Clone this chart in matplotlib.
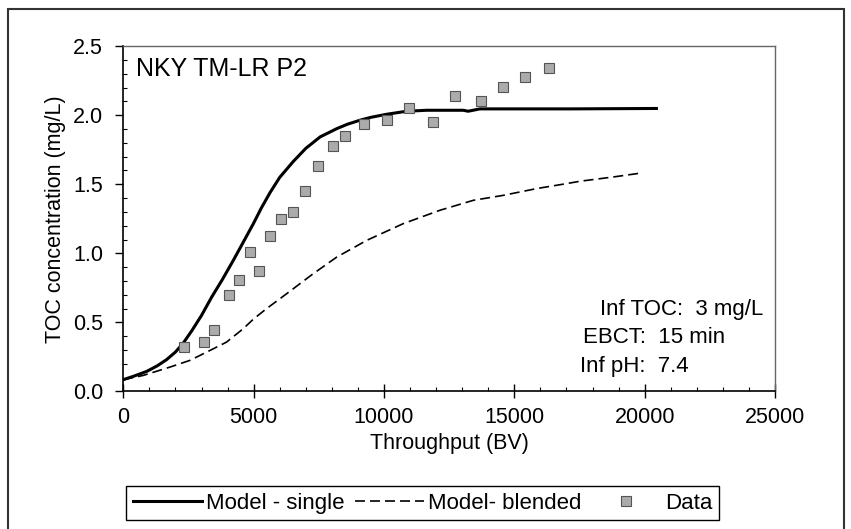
import matplotlib
matplotlib.use('Agg')
import matplotlib.pyplot as plt
from matplotlib.patches import Rectangle
from matplotlib.ticker import MultipleLocator, FormatStrFormatter

plt.rcParams['font.family'] = ['Liberation Sans', 'DejaVu Sans']

# model - single (solid line)
single_x = [0, 400, 900, 1300, 1660, 2000, 2300, 2630, 3000, 3390, 3800, 4220,
            4600, 4990, 5300, 5630, 6000, 6520, 7000, 7550, 8190, 8600, 9080,
            9500, 10100, 10870, 11640, 13040, 13230, 13680, 17140, 20450]
single_y = [0.085, 0.11, 0.145, 0.185, 0.23, 0.285, 0.35, 0.44, 0.55, 0.683,
            0.81, 0.949, 1.08, 1.215, 1.33, 1.44, 1.55, 1.665, 1.76, 1.843,
            1.903, 1.935, 1.964, 1.985, 2.007, 2.029, 2.036, 2.036, 2.029, 2.046,
            2.046, 2.049]

# model - blended (dashed line)
blend_x = [0, 770, 1790, 2560, 3330, 3960, 4600, 5000, 5500, 6270, 7290, 8190,
           9340, 10740, 12150, 13430, 14580, 15860, 17010, 17520, 18800, 19890]
blend_y = [0.085, 0.116, 0.176, 0.225, 0.297, 0.357, 0.454, 0.525, 0.6, 0.708,
           0.853, 0.973, 1.094, 1.215, 1.312, 1.384, 1.420, 1.469, 1.505, 1.522,
           1.553, 1.582]

# measured data
data_x = [2311, 3102, 3497, 4050, 4440, 4870, 5215, 5640, 6050, 6505, 6975, 7455,
          8050, 8515, 9240, 10100, 10970, 11870, 12740, 13720, 14580, 15410, 16340]
data_y = [0.325, 0.357, 0.445, 0.697, 0.81, 1.01, 0.873, 1.126, 1.25, 1.297, 1.449,
          1.631, 1.775, 1.849, 1.938, 1.963, 2.049, 1.951, 2.141, 2.101, 2.201,
          2.278, 2.341]

x_ticks = [0, 5000, 10000, 15000, 20000, 25000]
y_ticks = [0.0, 0.5, 1.0, 1.5, 2.0, 2.5]

W, H = 851, 529
fig = plt.figure(figsize=(W / 100, H / 100), dpi=100)
ax = fig.add_axes([123.3 / W, 1 - 391.4 / H, 651.7 / W, 345.2 / H])

ax.plot(single_x, single_y, color='black', lw=2.2, label='Model - single')
ax.plot(blend_x, blend_y, color='black', lw=1.2, dashes=(6, 3),
        label='Model- blended')
ax.plot(data_x, data_y, 's', ms=7, mfc='#ababab', mec='#555555', mew=0.8,
        label='Data')

ax.set_xlim(0, 25000)
ax.set_ylim(0, 2.5)
ax.set_xticks(x_ticks)
ax.set_yticks(y_ticks)
ax.yaxis.set_major_formatter(FormatStrFormatter('%.1f'))
ax.xaxis.set_minor_locator(MultipleLocator(1000))
ax.yaxis.set_minor_locator(MultipleLocator(0.1))

ax.tick_params(axis='x', which='major', direction='inout', length=10, width=1,
               labelsize=15.5, pad=6)
ax.tick_params(axis='y', which='major', direction='out', length=6, width=1,
               labelsize=15.5, pad=8.5)
ax.tick_params(which='minor', direction='in', length=3, width=0.8)

for side in ['left', 'bottom']:
    ax.spines[side].set_color('black')
    ax.spines[side].set_linewidth(1.2)
for side in ['top', 'right']:
    ax.spines[side].set_color('#666666')
    ax.spines[side].set_linewidth(1)

ax.set_xlabel('Throughput (BV)', fontsize=15.5, labelpad=4)
ax.set_ylabel('TOC concentration (mg/L)', fontsize=15.5, labelpad=5)

ax.text(0.019, 0.933, 'NKY TM-LR P2', transform=ax.transAxes, fontsize=18,
        ha='left', va='center')
ax.text(18285, 0.596, 'Inf TOC:  3 mg/L', fontsize=16, ha='left', va='center')
ax.text(17633, 0.388, 'EBCT:  15 min', fontsize=16, ha='left', va='center')
ax.text(17518, 0.181, 'Inf pH:  7.4', fontsize=16, ha='left', va='center')

leg = fig.legend(loc='upper left', bbox_to_anchor=(126.4 / W, 1 - 486 / H),
                 ncol=3, fontsize=16, frameon=True, fancybox=False,
                 edgecolor='black', framealpha=1, handlelength=3.1,
                 handletextpad=0.2, columnspacing=0.45, borderpad=0.3,
                 borderaxespad=0, numpoints=1)
leg.get_frame().set_linewidth(1)

# outer border of the figure
fig.patches.append(Rectangle((8 / W, -0.05), (844 - 8) / W, 1.05 - 9.4 / H,
                             transform=fig.transFigure, fill=False,
                             edgecolor='#333333', lw=1.5))

fig.savefig('out.png', dpi=100)
